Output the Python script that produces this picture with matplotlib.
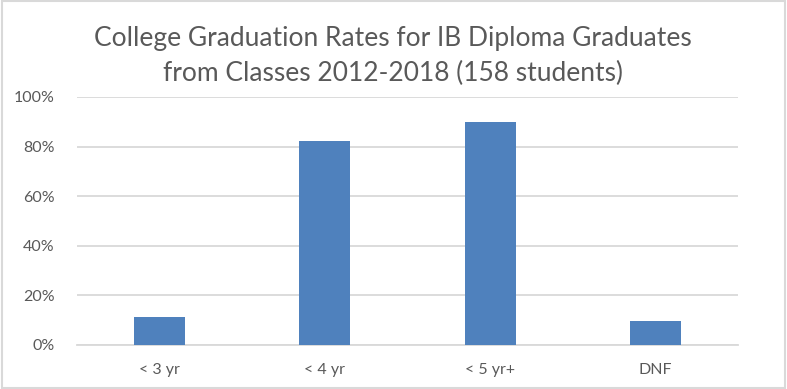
import matplotlib
matplotlib.use("Agg")
import matplotlib.pyplot as plt
from matplotlib.patches import Rectangle
from matplotlib.ticker import PercentFormatter

categories = ["< 3 yr", "< 4 yr", "< 5 yr+", "DNF"]
rates = [0.114, 0.823, 0.899, 0.095]
y_ticks = [0, 0.2, 0.4, 0.6, 0.8, 1.0]

TEXT = "#595959"
GRID = "#D9D9D9"
BAR = "#4F81BD"

plt.rcParams["font.family"] = ["Lato", "DejaVu Sans"]

fig = plt.figure(figsize=(7.87, 3.89), dpi=100)
ax = fig.add_axes([77 / 787, 1 - 345 / 389, 661 / 787, 248 / 389])

x = range(len(categories))
ax.bar(x, rates, width=0.31, color=BAR, zorder=3)

ax.set_xlim(-0.5, len(categories) - 0.5)
ax.set_ylim(0, 1.0)
ax.set_yticks(y_ticks)
ax.yaxis.set_major_formatter(PercentFormatter(1.0, decimals=0))
ax.set_xticks(list(x))
ax.set_xticklabels(categories)
ax.grid(axis="y", color=GRID, linewidth=1.3, zorder=0)
ax.tick_params(axis="both", length=0, colors=TEXT, labelsize=11.5)
ax.tick_params(axis="y", pad=16)
ax.tick_params(axis="x", pad=13)
for spine in ax.spines.values():
    spine.set_visible(False)
ax.spines["bottom"].set_visible(True)
ax.spines["bottom"].set_color(GRID)
ax.spines["bottom"].set_linewidth(1.3)

fig.text(
    393 / 787, 1 - 56 / 389,
    "College Graduation Rates for IB Diploma Graduates\nfrom Classes 2012-2018 (158 students)",
    ha="center", va="center", fontsize=19, color=TEXT, linespacing=1.5,
)

fig.patches.append(Rectangle((0.002, 0.003), 0.995, 0.994, transform=fig.transFigure,
                             fill=False, edgecolor=GRID, linewidth=1.5))

fig.savefig("out.png", dpi=100)
